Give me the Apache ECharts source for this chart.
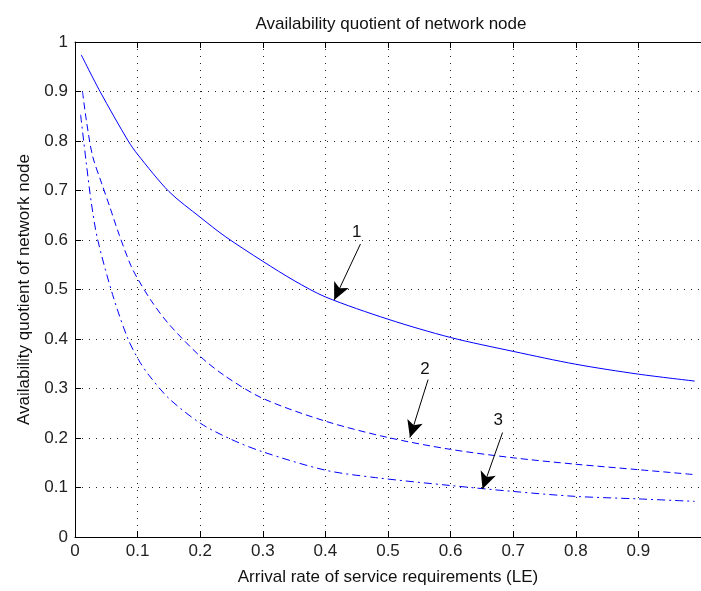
<!DOCTYPE html>
<html>
<head>
<meta charset="utf-8">
<script src="https://cdn.jsdelivr.net/npm/echarts@6/dist/echarts.min.js"></script>
<style>
  html, body { margin: 0; padding: 0; background: #fff; }
  #chart { width: 701px; height: 591px; }
</style>
</head>
<body>
<div id="chart"></div>
<script>
/* Curves: [arrival rate, availability quotient] */
const curve1 = [
  [0.01, 0.974], [0.04, 0.9], [0.085, 0.8], [0.1, 0.773], [0.15, 0.698],
  [0.2, 0.646], [0.24, 0.607], [0.3, 0.557], [0.35, 0.518], [0.4, 0.485],
  [0.5, 0.44], [0.6, 0.403], [0.7, 0.375], [0.8, 0.349], [0.9, 0.329], [0.99, 0.315]
];
const curve2 = [
  [0.012, 0.9], [0.018, 0.843], [0.028, 0.77], [0.043, 0.713], [0.055, 0.669],
  [0.071, 0.609], [0.089, 0.549], [0.1, 0.522], [0.123, 0.475], [0.15, 0.43],
  [0.2, 0.365], [0.24, 0.325], [0.3, 0.28], [0.4, 0.234], [0.5, 0.201],
  [0.6, 0.177], [0.7, 0.16], [0.8, 0.147], [0.9, 0.136], [0.99, 0.126]
];
const curve3 = [
  [0.009, 0.853], [0.018, 0.756], [0.026, 0.676], [0.036, 0.602], [0.06, 0.49],
  [0.084, 0.402], [0.102, 0.357], [0.118, 0.327], [0.15, 0.28], [0.2, 0.23],
  [0.25, 0.197], [0.3, 0.172], [0.4, 0.135], [0.48, 0.12], [0.6, 0.104],
  [0.7, 0.092], [0.8, 0.082], [0.9, 0.077], [0.99, 0.072]
];

/* Callouts: label text, label position, arrow start, arrow tip (data coords) */
const calloutNames = ["1", "2", "3"];
const calloutLabelAt = [[0.45, 0.616], [0.559, 0.338], [0.676, 0.235]];
const calloutFrom = [[0.456, 0.592], [0.564, 0.318], [0.683, 0.211]];
const calloutTo = [[0.414, 0.479], [0.535, 0.201], [0.651, 0.097]];

const FONT = "'Liberation Sans', Arial, Helvetica, sans-serif";
const BLUE = "#0000ff";
const TEXT_SIZE = 17;

function callout(i) {
  return {
    silent: true,
    symbol: ["none", "arrow"],
    symbolSize: [12, 17],
    lineStyle: { color: "#000", width: 1, type: "solid" },
    label: { show: false },
    data: [[{ coord: calloutFrom[i] }, { coord: calloutTo[i] }]]
  };
}

function calloutText(i) {
  return {
    silent: true,
    symbol: "circle",
    symbolSize: 0,
    label: {
      show: true,
      position: "inside",
      formatter: calloutNames[i],
      color: "#111",
      fontSize: TEXT_SIZE,
      fontFamily: FONT
    },
    data: [{ coord: calloutLabelAt[i] }]
  };
}

function curve(name, data, dash, idx) {
  return {
    name: name,
    type: "line",
    data: data,
    showSymbol: false,
    smooth: 0.3,
    lineStyle: { color: BLUE, width: 1, type: dash },
    markLine: callout(idx),
    markPoint: calloutText(idx),
    animation: false
  };
}

const chart = echarts.init(document.getElementById("chart"), null, { renderer: "canvas" });

const axisLine = { show: true, lineStyle: { color: "#000", width: 1 } };
const tick = { show: true, inside: true, length: 6, lineStyle: { color: "#000" } };
const gridLine = { show: true, lineStyle: { color: "#222", width: 1, type: [1, 6] } };

chart.setOption({
  backgroundColor: "#fff",
  animation: false,
  title: {
    text: "Availability quotient of network node",
    left: 386,
    top: 11,
    textAlign: "center",
    textStyle: { fontFamily: FONT, fontSize: TEXT_SIZE, fontWeight: "normal", color: "#111" }
  },
  grid: { left: 75, top: 42, right: -6, bottom: 51 },
  xAxis: [
    {
      type: "value",
      min: 0,
      max: 1,
      interval: 0.1,
      name: "Arrival rate of service requirements (LE)",
      nameLocation: "middle",
      nameGap: 32,
      nameTextStyle: { fontFamily: FONT, fontSize: TEXT_SIZE, color: "#111" },
      axisLine: axisLine,
      axisTick: tick,
      axisLabel: { fontFamily: FONT, fontSize: TEXT_SIZE, color: "#222", margin: 6, showMaxLabel: false },
      splitLine: gridLine
    },
    {
      type: "value",
      position: "top",
      min: 0,
      max: 1,
      interval: 0.1,
      axisLine: axisLine,
      axisTick: tick,
      axisLabel: { show: false },
      splitLine: { show: false }
    }
  ],
  yAxis: {
    type: "value",
    min: 0,
    max: 1,
    interval: 0.1,
    name: "Availability quotient of network node",
    nameLocation: "middle",
    nameGap: 42,
    nameTextStyle: { fontFamily: FONT, fontSize: TEXT_SIZE, color: "#111" },
    axisLine: axisLine,
    axisTick: tick,
    axisLabel: { fontFamily: FONT, fontSize: TEXT_SIZE, color: "#222", margin: 7 },
    splitLine: gridLine
  },
  series: [
    curve("1", curve1, "solid", 0),
    curve("2", curve2, [7, 4], 1),
    curve("3", curve3, [8, 4, 2, 4], 2)
  ]
});
</script>
</body>
</html>
